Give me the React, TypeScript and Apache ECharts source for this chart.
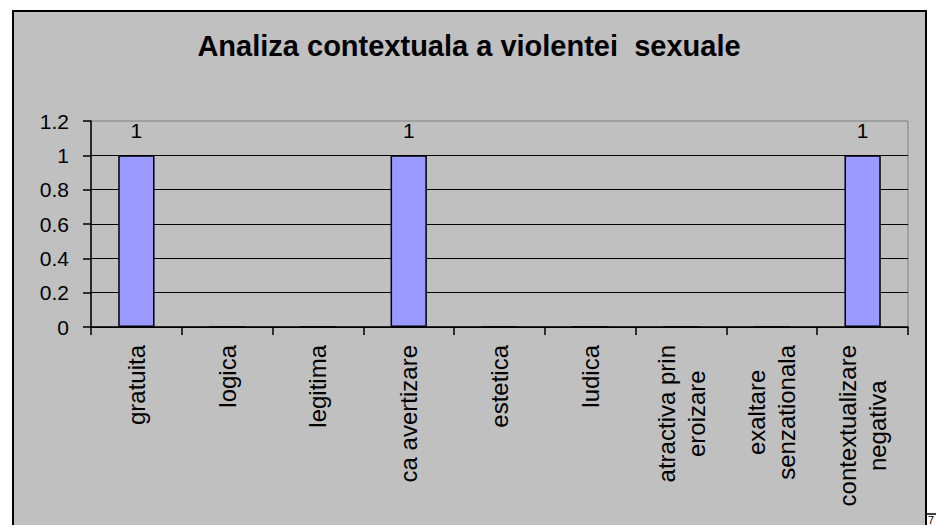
import React, { useEffect, useRef } from "react";
import * as echarts from "echarts";

const titleText = "Analiza contextuala a violentei  sexuale";
const categories = [
  "gratuita",
  "logica",
  "legitima",
  "ca avertizare",
  "estetica",
  "ludica",
  "atractiva prin\neroizare",
  "exaltare\nsenzationala",
  "contextualizare\nnegativa",
];
const values = [1, 0, 0, 1, 0, 0, 0, 0, 1];
const yTicks = { min: 0, max: 1.2, interval: 0.2 };

export default function App() {
  const ref = useRef<HTMLDivElement>(null);
  useEffect(() => {
    if (!ref.current) return;
    const chart = echarts.init(ref.current, null, { renderer: "svg" });
    const font = "'Liberation Sans', Arial, sans-serif";
    chart.setOption({
      animation: false,
      backgroundColor: "#ffffff",
      textStyle: { fontFamily: font },
      title: {
        text: titleText,
        left: 464,
        textAlign: "center",
        top: 26,
        textStyle: { fontFamily: font, fontSize: 29, fontWeight: "bold", color: "#000" },
      },
      graphic: [
        {
          type: "rect",
          z: -10,
          silent: true,
          shape: { x: 13, y: 11, width: 913, height: 530 },
          style: { fill: "#c0c0c0", stroke: "#000", lineWidth: 2 },
        },
        {
          type: "line",
          silent: true,
          shape: { x1: 926, y1: 514, x2: 936, y2: 514 },
          style: { stroke: "#000", lineWidth: 1.5 },
        },
        {
          type: "text",
          silent: true,
          x: 928,
          y: 514,
          style: { text: "7", fontSize: 11, fontFamily: font, fill: "#000" },
        },
      ],
      grid: {
        left: 91,
        top: 121,
        right: 28,
        bottom: 198,
        show: true,
        borderColor: "#808080",
        borderWidth: 1,
        backgroundColor: "transparent",
      },
      xAxis: {
        type: "category",
        data: categories,
        boundaryGap: true,
        axisLine: { lineStyle: { color: "#000", width: 1.5 } },
        axisTick: { show: true, length: 8, lineStyle: { color: "#000", width: 1.5 } },
        axisLabel: {
          rotate: 90,
          margin: 18,
          color: "#000",
          fontSize: 24,
          lineHeight: 30,
          fontFamily: font,
          interval: 0,
          formatter: (v: string) =>
            v
              .split("\n")
              .map((s) => "{c|" + s + "}")
              .join("\n"),
          rich: {
            c: { align: "center", fontSize: 24, lineHeight: 30, color: "#000", fontFamily: font },
          },
        },
        splitLine: { show: false },
      },
      yAxis: {
        type: "value",
        min: yTicks.min,
        max: yTicks.max,
        interval: yTicks.interval,
        axisLine: { show: true, lineStyle: { color: "#000", width: 1.5 } },
        axisTick: { show: true, length: 8, lineStyle: { color: "#000", width: 1.5 } },
        axisLabel: {
          margin: 22,
          color: "#000",
          fontSize: 21,
          fontFamily: font,
          formatter: (v: number) => String(Math.round(v * 10) / 10),
        },
        splitLine: {
          show: true,
          showMaxLine: false,
          lineStyle: { color: "#000", width: 1 },
        },
      },
      series: [
        {
          type: "bar",
          data: values,
          barWidth: "40%",
          itemStyle: { color: "#9999ff", borderColor: "#000", borderWidth: 1.5 },
          label: {
            show: true,
            position: "top",
            distance: 14,
            color: "#000",
            fontSize: 21,
            fontFamily: font,
            formatter: (p: any) => (p.value ? String(p.value) : ""),
          },
        },
      ],
    });
    return () => chart.dispose();
  }, []);
  return (
    <div
      ref={ref}
      style={{ position: "fixed", left: 0, top: 0, width: 936, height: 525 }}
    />
  );
}
